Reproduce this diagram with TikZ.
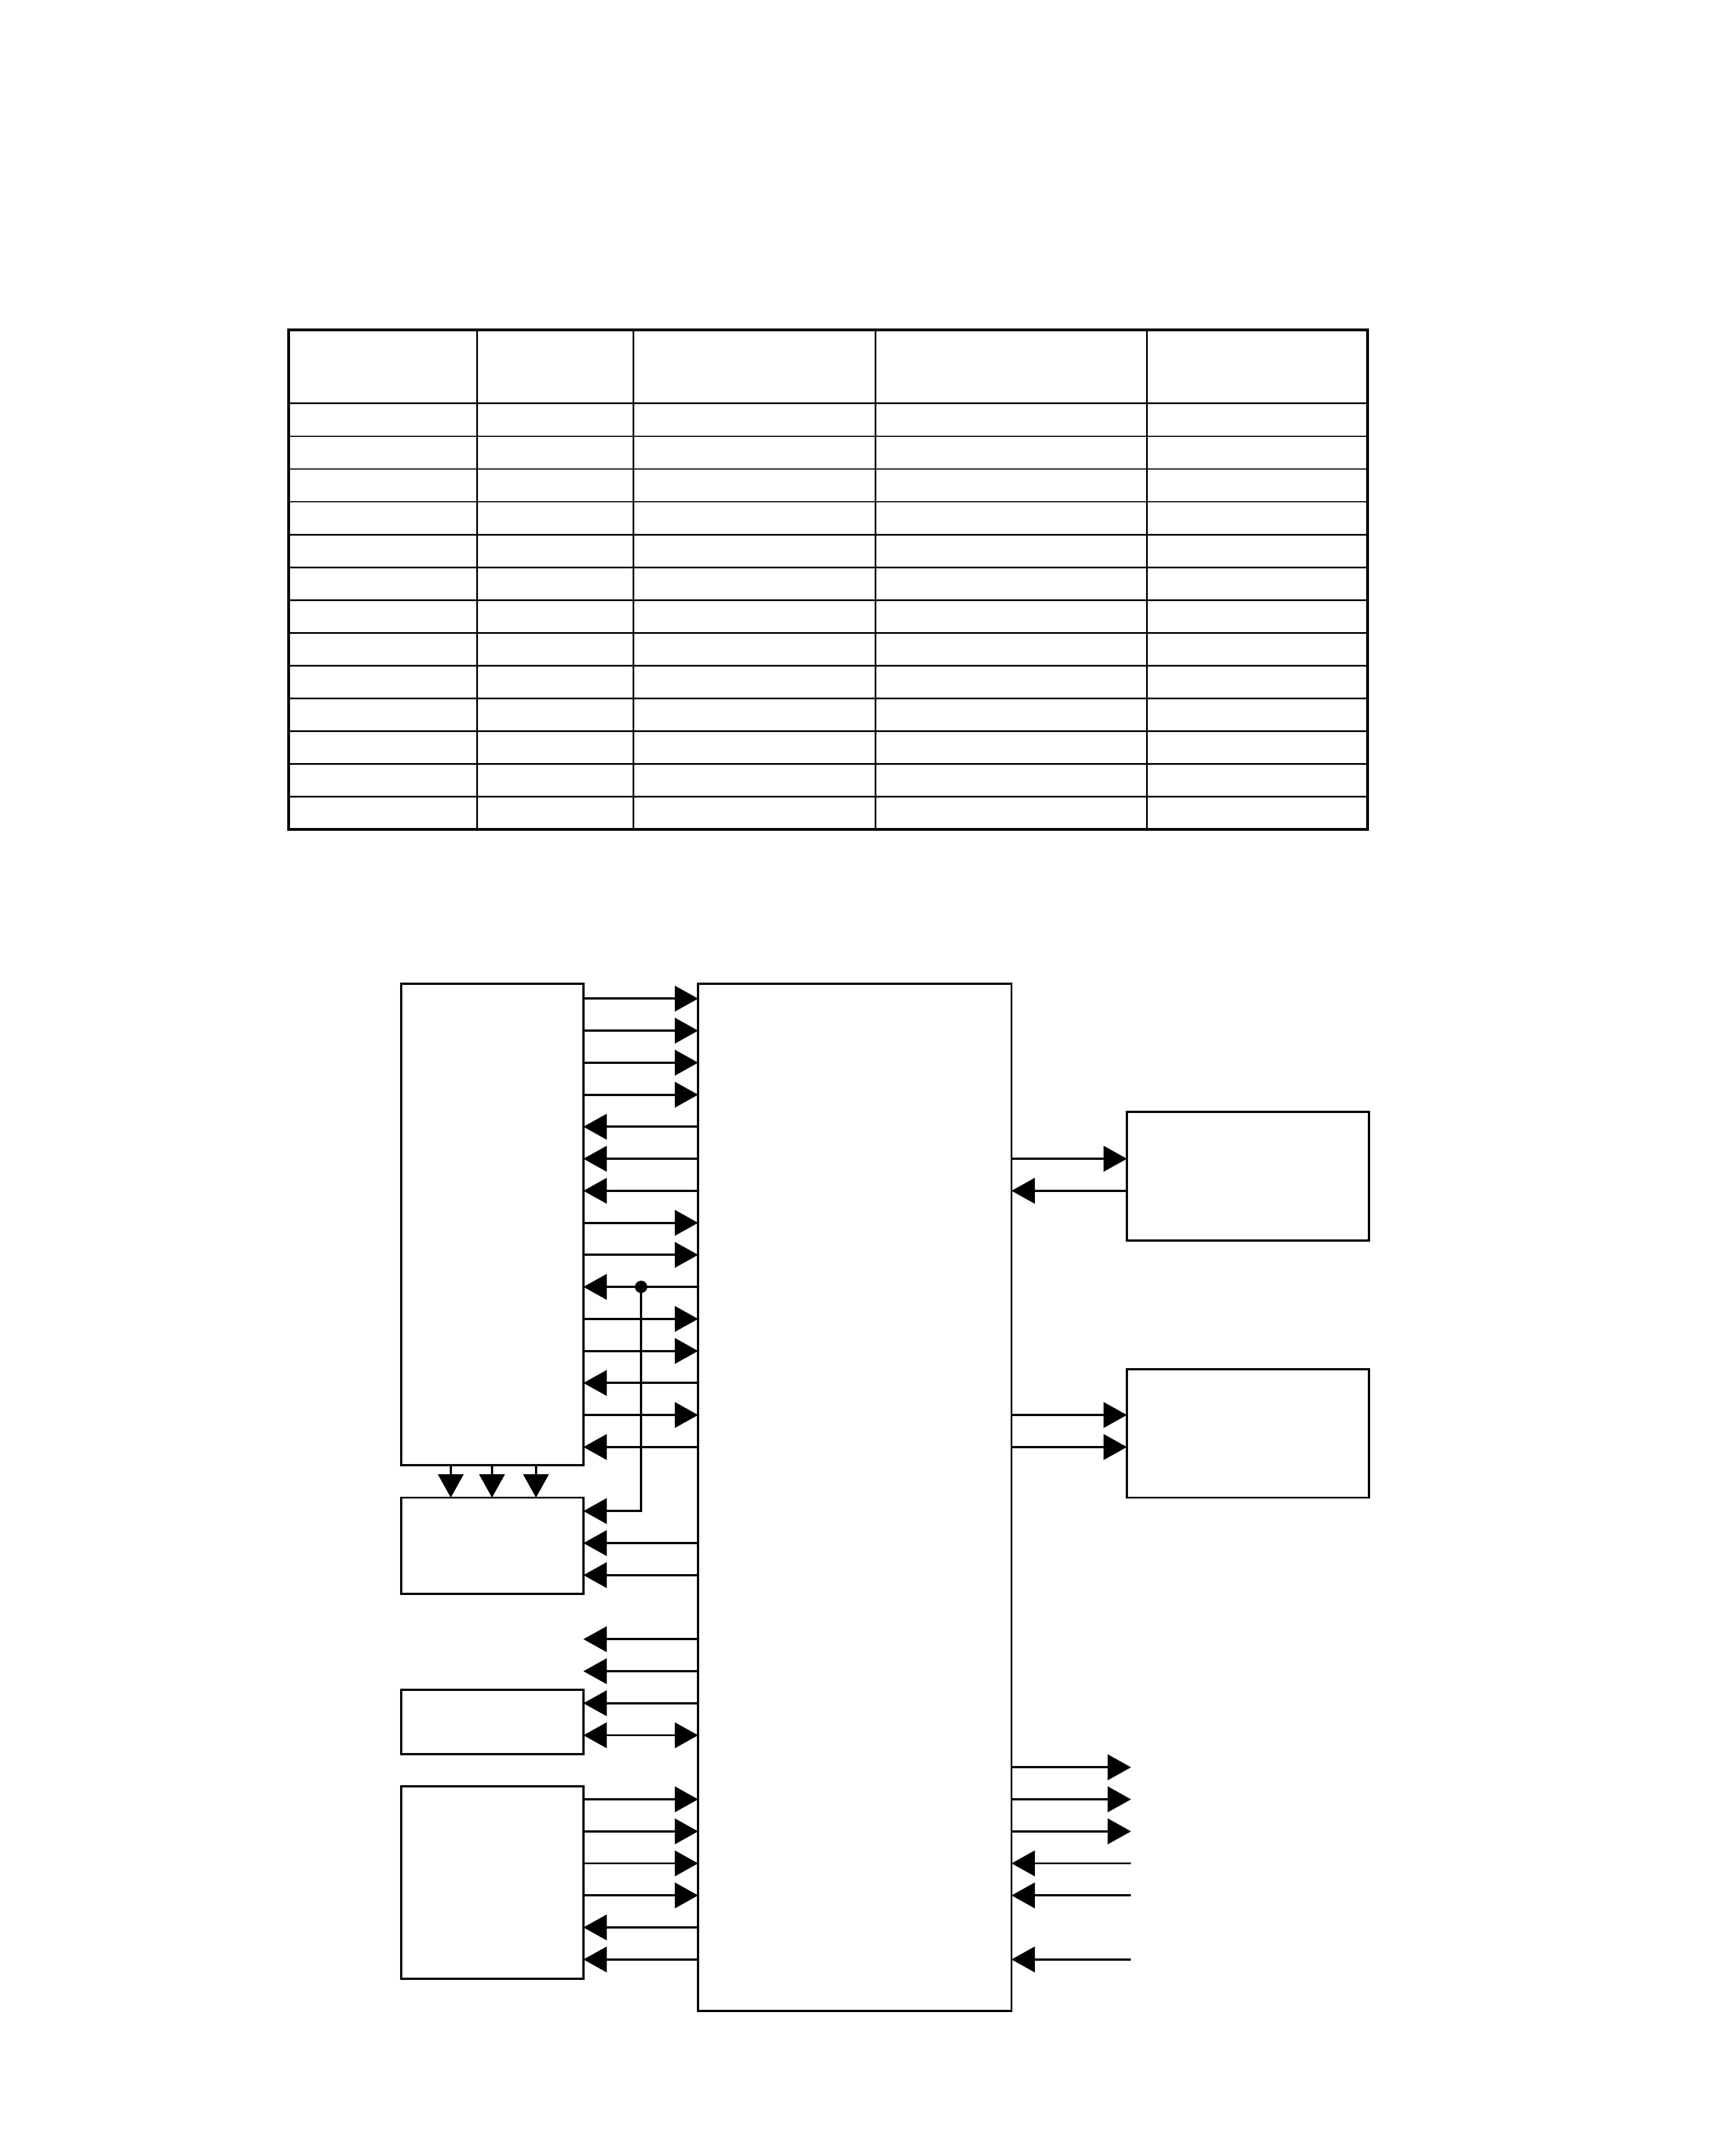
\documentclass[tikz,border=0pt]{standalone}
\usetikzlibrary{arrows.meta, positioning}

\begin{document}
\begin{tikzpicture}[
    block/.style={rectangle, draw, line width=0.9pt, inner sep=0pt, outer sep=0pt},
    line/.style={draw, line width=0.9pt, -{Triangle[length=0.34cm, width=0.37cm]}},
    biline/.style={draw, line width=0.9pt, {Triangle[length=0.34cm, width=0.37cm]}-{Triangle[length=0.34cm, width=0.37cm]}},
    tablerule/.style={draw, line width=0.65pt},
    tableframe/.style={draw, line width=1.1pt}
]
    \useasboundingbox (0,0) rectangle (25.16,-31.37);

    % Table (empty)
    \foreach \i in {0,...,12}
        \draw [tablerule] (4.20,{-5.87-0.477*\i}) -- (19.90,{-5.87-0.477*\i});
    \foreach \x in {6.94,9.22,12.74,16.69}
        \draw [tablerule] (\x,-4.80) -- (\x,-12.07);
    \draw [tableframe] (4.20,-4.80) rectangle (19.90,-12.07);

    % Signal rows
    \foreach \k in {0,...,30}
        \coordinate (r\k) at (0,{-14.53-0.466*\k});
    \coordinate (ext) at (16.46,0);

    % Central block
    \node [block, minimum width=4.56cm, minimum height=14.95cm, anchor=north west] (core) at (10.16,-14.31) {};

    % Left column
    \node [block, minimum width=2.65cm, minimum height=7.01cm, left=1.67cm of core.north west, anchor=north east] (unitA) {};
    \node [block, minimum width=2.65cm, minimum height=1.40cm, below=0.47cm of unitA] (unitB) {};
    \node [block, minimum width=2.65cm, minimum height=0.93cm, below=1.40cm of unitB] (unitC) {};
    \node [block, minimum width=2.65cm, minimum height=2.80cm, below=0.47cm of unitC] (unitD) {};

    % Right column
    \node [block, minimum width=3.52cm, minimum height=1.87cm, right=1.68cm of core.north east, anchor=north west, yshift=-1.87cm] (unitE) {};
    \node [block, minimum width=3.52cm, minimum height=1.87cm, below=1.87cm of unitE] (unitF) {};

    % unitA <-> core
    \foreach \k in {0,1,2,3,7,8,10,11,13}
        \draw [line] (unitA.east |- r\k) -- (core.west |- r\k);
    \foreach \k in {4,5,6,9,12,14}
        \draw [line] (core.west |- r\k) -- (unitA.east |- r\k);

    % Tap to unitB
    \path (r9) ++(9.33,0) coordinate (tap);
    \fill (tap) circle (0.09cm);
    \draw [line] (tap) |- (unitB.east |- r16);
    \foreach \x in {6.56,7.16,7.80}
        \draw [line] (\x,0 |- unitA.south) -- (\x,0 |- unitB.north);
    \foreach \k in {17,18}
        \draw [line] (core.west |- r\k) -- (unitB.east |- r\k);

    % Open outputs, unitC
    \foreach \k in {20,21}
        \draw [line] (core.west |- r\k) -- (unitA.east |- r\k);
    \draw [line] (core.west |- r22) -- (unitC.east |- r22);
    \draw [biline] (unitC.east |- r23) -- (core.west |- r23);

    % unitD
    \foreach \k in {25,26,27,28}
        \draw [line] (unitD.east |- r\k) -- (core.west |- r\k);
    \foreach \k in {29,30}
        \draw [line] (core.west |- r\k) -- (unitD.east |- r\k);

    % Right side
    \draw [line] (core.east |- r5) -- (unitE.west |- r5);
    \draw [line] (unitE.west |- r6) -- (core.east |- r6);
    \foreach \k in {13,14}
        \draw [line] (core.east |- r\k) -- (unitF.west |- r\k);
    \foreach \k in {24,25,26}
        \draw [line] (core.east |- r\k) -- (ext |- r\k);
    \foreach \k in {27,28,30}
        \draw [line] (ext |- r\k) -- (core.east |- r\k);

\end{tikzpicture}
\end{document}
